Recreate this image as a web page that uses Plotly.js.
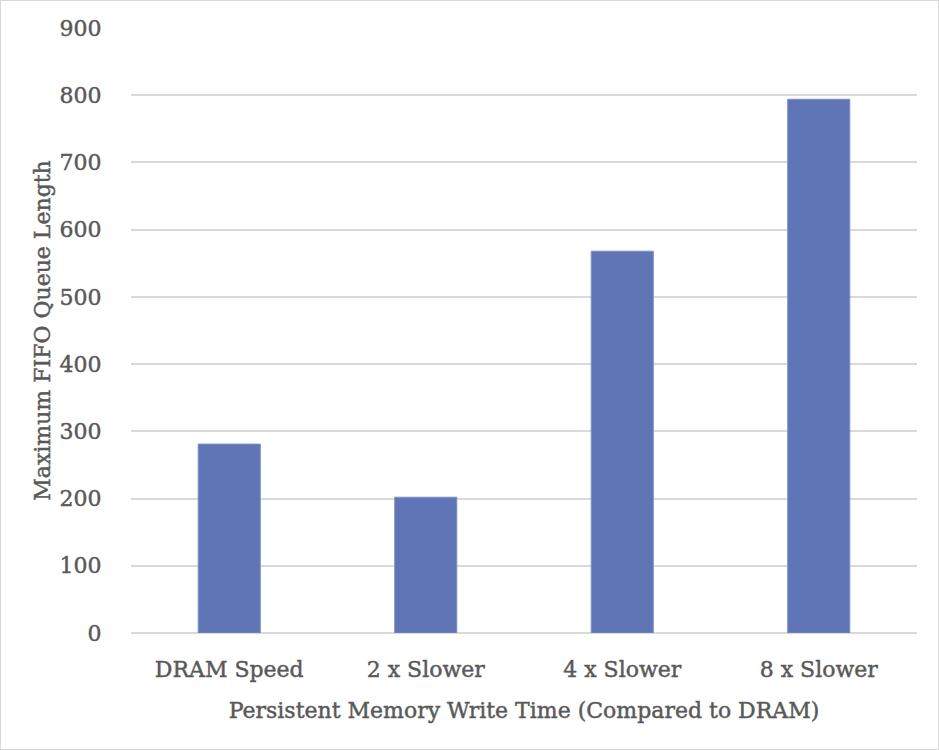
<!DOCTYPE html>
<html>
<head>
<meta charset="utf-8">
<script src="https://cdn.plot.ly/plotly-3.0.1.min.js"></script>
<style>
html,body{margin:0;padding:0;background:#fff;}
#chart{width:937px;height:748px;border:1px solid #d9d9d9;}
#chart text{stroke:#595959;stroke-width:0.45px;}
</style>
</head>
<body>
<div id="chart"></div>
<script>
const categories = ["DRAM Speed", "2 x Slower", "4 x Slower", "8 x Slower"];
const queueLength = [281, 202, 568, 794];
const yTicks = [0, 100, 200, 300, 400, 500, 600, 700, 800, 900];

const FONT = "DejaVu Serif";
const TXT = "#595959";

const data = [{
  type: "bar",
  x: categories,
  y: queueLength,
  marker: {color: "#5f75b5", line: {color: "#7d8fc6", width: 1}},
  hoverinfo: "x+y"
}];

const layout = {
  width: 937, height: 748,
  margin: {l: 130, r: 21, t: 27, b: 116, pad: 0},
  paper_bgcolor: "#fff",
  plot_bgcolor: "#fff",
  font: {family: FONT, color: TXT, size: 22},
  bargap: 0.684,
  showlegend: false,
  xaxis: {
    type: "category",
    showgrid: false,
    zeroline: false,
    showline: false,
    ticks: "outside", ticklen: 17, tickcolor: "rgba(0,0,0,0)",
    tickfont: {family: FONT, color: TXT, size: 22},
    title: {text: "Persistent Memory Write Time (Compared to DRAM)", font: {family: FONT, color: TXT, size: 22}, standoff: 21}
  },
  yaxis: {
    range: [0, 900],
    tickvals: yTicks,
    ticktext: yTicks.map(String),
    showgrid: true, gridcolor: "#d9d9d9", gridwidth: 1.5,
    zeroline: true, zerolinecolor: "#d9d9d9", zerolinewidth: 1.5,
    showline: false,
    ticks: "outside", ticklen: 24, tickcolor: "rgba(0,0,0,0)",
    tickfont: {family: FONT, color: TXT, size: 22},
    title: {text: "Maximum FIFO Queue Length", font: {family: FONT, color: TXT, size: 22}, standoff: 2}
  }
};

Plotly.newPlot("chart", data, layout, {displayModeBar: false});
</script>
</body>
</html>
